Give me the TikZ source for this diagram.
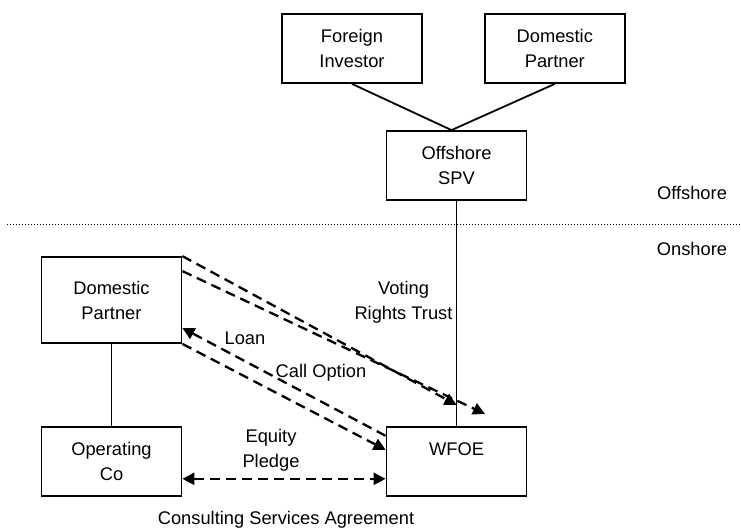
\documentclass[tikz,border=0pt]{standalone}
\usepackage{fontspec}
\setmainfont{Liberation Sans}
\usetikzlibrary{positioning, arrows.meta}

\begin{document}
\begin{tikzpicture}[
  x=1pt, y=-1pt,
  entity/.style={draw, rectangle, align=center, minimum width=140pt, minimum height=69pt, line width=1.8pt, font=\fontsize{18.3}{25}\selectfont},
  lbl/.style={align=center, font=\fontsize{18.3}{25}\selectfont},
  link/.style={line width=1.8pt},
  flow/.style={line width=2.3pt, dash pattern=on 10pt off 6pt, -{Triangle[length=12pt,width=12pt]}},
  flowboth/.style={flow, {Triangle[length=12pt,width=12pt]}-{Triangle[length=12pt,width=12pt]}},
  shore/.style={line width=1pt, dash pattern=on 1.4pt off 1.6pt}
]
\useasboundingbox (0,0) rectangle (741,529);

% Offshore entities
\node[entity] (fi) at (352,48.5) {Foreign\\Investor};
\node[entity, right=61pt of fi] (dpoff) {Domestic\\Partner};
\node[entity] (spv) at (456.5,165.5) {Offshore\\SPV};

% Onshore entities
\node[entity, below=225pt of spv] (wfoe) {WFOE\\\mbox{}};
\node[entity, minimum height=86pt] (dpon) at (111.5,300) {Domestic\\Partner};
\node[entity, below=82pt of dpon] (opco) {Operating\\Co};

% Border
\coordinate (shoreL) at (7,225);
\coordinate (shoreR) at (741,225);
\draw[shore] (shoreL) -- (shoreR);
\node[lbl] (off) at (692,193) {Offshore};
\node[lbl] (on) at (692,249) {Onshore};

% Labels
\node[lbl] (vrt) at (403.5,302.5) {Voting\\Rights Trust};
\node[lbl] (loan) at (245,338) {Loan};
\node[lbl] (call) at (321,373) {Call Option};
\node[lbl] (pledge) at (271,450.5) {Equity\\Pledge};
\node[lbl] (csa) at (286,520) {Consulting Services Agreement};

% Ownership
\draw[link] (fi.south) -- ([xshift=-5pt]spv.north);
\draw[link] (dpoff.south) -- ([xshift=-5pt]spv.north);
\draw[link] (spv.south) -- (wfoe.north);
\draw[link] (dpon.south) -- (opco.north);

% Contracts
\draw[flow] (dpon.north east) -- ([yshift=21pt]wfoe.north);
\draw[flow] ([yshift=-15pt]dpon.north east) -- ([xshift=28.5pt,yshift=12pt]wfoe.north);
\draw[flow] ([yshift=25.5pt]wfoe.west) -- ([yshift=-28pt]dpon.east);
\draw[flow] (dpon.south east) -- ([yshift=11.5pt]wfoe.west);
\draw[flowboth] ([yshift=-17.5pt]opco.east) -- ([yshift=-17.5pt]wfoe.west);

\end{tikzpicture}
\end{document}
